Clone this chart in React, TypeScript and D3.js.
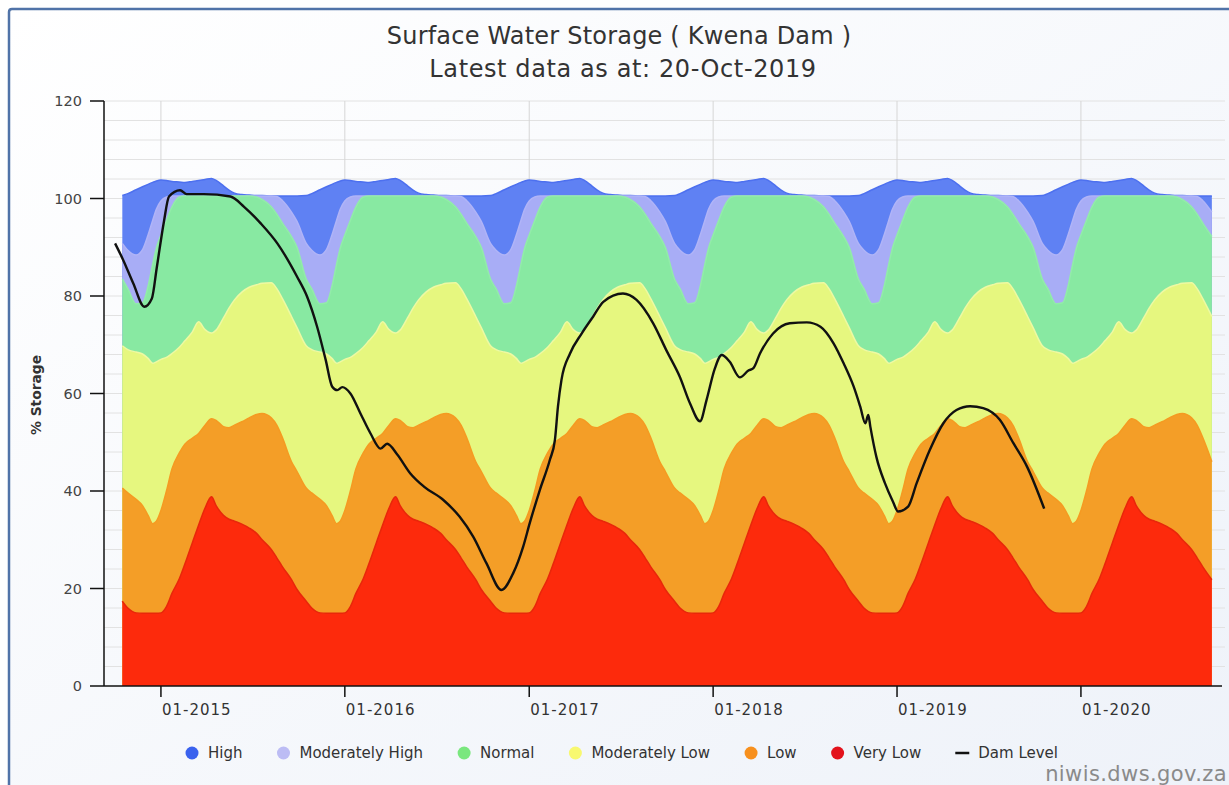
import React, { useMemo } from "react";
import * as d3 from "d3";

const W = 1229;
const H = 785;

// ---- Band climatology (one-year profile, fraction of year -> % storage at each band's upper edge)
const profileFractions = [0, 0.03, 0.06, 0.1, 0.13, 0.17, 0.205, 0.24, 0.275, 0.3, 0.34, 0.37, 0.4, 0.44, 0.48, 0.52, 0.55, 0.6, 0.63, 0.66, 0.71, 0.74, 0.79, 0.82, 0.865, 0.9, 0.93, 0.955, 0.975];
const veryLowTop = [15.0, 16.3, 19.0, 22.0, 25.0, 29.3, 33.0, 36.5, 38.8, 37.0, 35.0, 34.2, 33.8, 33.2, 32.4, 31.3, 30.0, 28.0, 26.3, 24.5, 21.8, 19.8, 17.4, 16.0, 15.0, 14.9, 14.9, 14.9, 14.9];
const lowTop = [36.0, 40.0, 44.5, 47.8, 49.6, 50.8, 51.8, 53.5, 54.8, 54.5, 53.2, 53.0, 53.5, 54.2, 55.0, 55.7, 55.9, 55.0, 53.5, 51.0, 46.0, 44.0, 40.6, 39.6, 38.3, 37.0, 35.0, 33.3, 33.8];
const modLowTop = [67.0, 67.4, 68.2, 69.5, 70.8, 72.6, 74.7, 73.1, 72.4, 73.0, 75.5, 77.5, 79.2, 80.8, 81.8, 82.3, 82.6, 82.7, 81.5, 79.5, 75.8, 73.5, 69.8, 69.0, 68.5, 68.1, 67.2, 66.2, 66.5];
const normalTop = [92.5, 95.5, 98.3, 100.3, 100.5, 100.5, 100.5, 100.5, 100.5, 100.5, 100.5, 100.5, 100.5, 100.5, 100.5, 100.3, 99.8, 98.3, 96.8, 95.0, 92.2, 90.0, 83.5, 81.5, 78.4, 78.6, 82.0, 86.5, 89.8];
const modHighTop = [99.5, 100.3, 100.5, 100.5, 100.5, 100.5, 100.5, 100.5, 100.5, 100.5, 100.5, 100.5, 100.5, 100.5, 100.5, 100.5, 100.5, 100.5, 100.4, 99.6, 97.2, 95.3, 90.8, 89.4, 88.4, 89.5, 92.5, 95.5, 97.8];
const highTop = [103.8, 103.7, 103.5, 103.4, 103.3, 103.5, 103.7, 103.9, 104.1, 103.7, 102.6, 101.7, 101.1, 100.8, 100.7, 100.6, 100.6, 100.5, 100.5, 100.5, 100.5, 100.5, 100.6, 101.0, 101.8, 102.4, 102.9, 103.3, 103.6];

const bandYears = [2014, 2015, 2016, 2017, 2018, 2019, 2020];
const bandStart = "2014-10-14";
const bandEnd = "2020-09-18";

// ---- Dam level
const damDates = [
  "2014-10-02", "2014-10-18", "2014-11-07", "2014-11-29", "2014-12-14", "2014-12-24", "2015-01-07", "2015-01-17",
  "2015-02-08", "2015-02-21", "2015-03-27", "2015-05-19", "2015-06-15", "2015-07-18", "2015-08-20", "2015-09-28",
  "2015-10-18", "2015-11-07", "2015-11-24", "2015-12-07", "2015-12-17", "2015-12-27", "2016-01-12", "2016-02-01",
  "2016-02-21", "2016-03-12", "2016-03-25", "2016-04-14", "2016-05-10", "2016-06-06", "2016-07-14", "2016-08-16",
  "2016-09-12", "2016-10-08", "2016-11-07", "2016-11-30", "2016-12-20", "2017-01-02", "2017-01-22", "2017-02-11",
  "2017-02-21", "2017-02-27", "2017-03-06", "2017-03-23", "2017-04-15", "2017-05-08", "2017-05-28", "2017-07-06",
  "2017-08-02", "2017-09-04", "2017-09-30", "2017-10-27", "2017-11-16", "2017-12-06", "2017-12-19", "2018-01-04",
  "2018-01-18", "2018-02-03", "2018-02-23", "2018-03-12", "2018-03-22", "2018-04-04", "2018-04-30", "2018-06-02",
  "2018-07-06", "2018-08-02", "2018-08-28", "2018-09-17", "2018-10-07", "2018-10-20", "2018-10-30", "2018-11-05",
  "2018-11-09", "2018-11-21", "2018-12-08", "2018-12-24", "2019-01-03", "2019-01-23", "2019-02-09", "2019-03-07",
  "2019-04-03", "2019-04-29", "2019-05-26", "2019-06-21", "2019-07-24", "2019-08-20", "2019-09-16", "2019-10-20",
];
const damLevels = [
  90.8, 87.4, 82.6, 77.8, 79.5, 86.0, 95.3, 100.4,
  101.7, 100.9, 100.9, 100.4, 98.3, 94.9, 90.8, 84.0,
  79.9, 73.7, 66.9, 61.4, 60.7, 61.3, 60.0, 55.9,
  51.8, 48.7, 49.7, 47.5, 43.6, 40.9, 38.2, 34.7,
  30.6, 25.2, 19.7, 23.1, 28.6, 33.4, 40.2, 46.4,
  50.5, 57.3, 62.8, 68.2, 72.3, 75.8, 78.8, 80.5,
  79.2, 74.4, 68.9, 63.4, 58.0, 54.3, 58.7, 65.0,
  67.9, 66.5, 63.3, 64.7, 65.2, 68.2, 72.3, 74.4,
  74.6, 73.7, 70.3, 66.2, 61.4, 57.3, 53.9, 55.6,
  53.2, 47.0, 41.6, 37.8, 35.8, 36.8, 41.6, 48.4,
  53.9, 56.6, 57.4, 57.0, 54.6, 49.8, 45.0, 36.4,
];

// ---- Axes
const yTicks = [0, 20, 40, 60, 80, 100, 120];
const yGridStep = 4;
const xTickDates = ["2015-01-01", "2016-01-01", "2017-01-01", "2018-01-01", "2019-01-01", "2020-01-01"];
const xTickLabels = ["01-2015", "01-2016", "01-2017", "01-2018", "01-2019", "01-2020"];
const xDomain = ["2014-09-10", "2020-10-07"];

// ---- Legend / series
const seriesNames = ["High", "Moderately High", "Normal", "Moderately Low", "Low", "Very Low"];
const seriesFill = ["#5f81f3", "#a8adf6", "#88e9a2", "#e6f77f", "#f49e27", "#fd2a0c"];
const seriesStroke = ["#4d70ef", "#b0b4f7", "#92eca9", "#eef9a3", "#f59a22", "#e8270a"];
const legendColors = ["#3a62ee", "#bcbcf4", "#7ae77e", "#f8f870", "#f7901e", "#e3121c"];
const damName = "Dam Level";

const titleText = "Surface Water Storage ( Kwena Dam )";
const subtitleText = "Latest data as at: 20-Oct-2019";
const yTitle = "% Storage";
const credit = "niwis.dws.gov.za";

const FONT = "'DejaVu Sans', sans-serif";
const parse = (s: string) => new Date(s + "T00:00:00Z");

function measure(text: string, font: string): number {
  try {
    const c = document.createElement("canvas").getContext("2d");
    if (c) {
      c.font = font;
      return c.measureText(text).width;
    }
  } catch (e) {}
  return text.length * 8;
}

export default function App() {
  const left = 104, right = 1222, top = 101, bottom = 686;

  const x = useMemo(() => d3.scaleUtc().domain(xDomain.map(parse)).range([left, right]), []);
  const y = useMemo(() => d3.scaleLinear().domain([0, 120]).range([bottom, top]), []);

  const bandPts = useMemo(() => {
    const s = parse(bandStart).getTime();
    const e = parse(bandEnd).getTime();
    const pts: { t: Date; i: number }[] = [];
    bandYears.forEach((yr) => {
      const a = Date.UTC(yr, 0, 1);
      const b = Date.UTC(yr + 1, 0, 1);
      profileFractions.forEach((f, i) => {
        const t = a + f * (b - a);
        if (t >= s && t <= e) pts.push({ t: new Date(t), i });
      });
    });
    return pts;
  }, []);

  const boundaries = [highTop, modHighTop, normalTop, modLowTop, lowTop, veryLowTop];

  const areaGen = d3
    .area<{ t: Date; v: number }>()
    .x((d) => x(d.t))
    .y0(y(0))
    .y1((d) => y(d.v))
    .curve(d3.curveMonotoneX);
  const lineGen = d3
    .line<{ t: Date; v: number }>()
    .x((d) => x(d.t))
    .y((d) => y(d.v))
    .curve(d3.curveMonotoneX);

  const bands = boundaries.map((arr) => bandPts.map((p) => ({ t: p.t, v: arr[p.i] })));
  const dam = damDates.map((d, i) => ({ t: parse(d), v: damLevels[i] }));

  const gridVals = d3.range(yGridStep, 120 + 0.001, yGridStep);

  // legend layout
  const legendLabels = [...seriesNames, damName];
  const widths = legendLabels.map((l) => measure(l, "15px DejaVu Sans"));
  const symW = 17, gap = 33;
  const itemW = widths.map((w) => symW + 7 + w);
  const total = d3.sum(itemW) + gap * (itemW.length - 1);
  let cx = 621 - total / 2;
  const legendPos = itemW.map((w) => {
    const p = cx;
    cx += w + gap;
    return p;
  });
  const legendY = 753;

  return (
    <svg width={W} height={H} style={{ position: "absolute", left: 0, top: 0 }} fontFamily={FONT}>
      <defs>
        <linearGradient id="bg" x1="0" y1="0" x2="1" y2="1">
          <stop offset="0%" stopColor="#ffffff" />
          <stop offset="100%" stopColor="#eef2f9" />
        </linearGradient>
        <clipPath id="plot">
          <rect x={left} y={top} width={right - left} height={bottom - top} />
        </clipPath>
      </defs>
      <rect x={0} y={0} width={W} height={H} fill="#ffffff" />
      <rect x={8} y={8} width={W} height={H} fill="url(#bg)" />
      <path d={`M9,${H} L9,12 Q9,9 12,9 L${W},9`} fill="none" stroke="#5073a8" strokeWidth={2.5} />

      {/* grid */}
      {gridVals.map((v) => (
        <line key={"g" + v} x1={left} x2={right + 3} y1={y(v)} y2={y(v)} stroke="#e2e2e2" strokeWidth={1} />
      ))}
      {xTickDates.map((d) => (
        <line key={"vg" + d} x1={x(parse(d))} x2={x(parse(d))} y1={top} y2={bottom} stroke="#d6d6d6" strokeWidth={1} />
      ))}

      {/* bands */}
      <g clipPath="url(#plot)">
        {bands.map((pts, k) => (
          <g key={"b" + k}>
            <path d={areaGen(pts) || ""} fill={seriesFill[k]} />
            <path d={lineGen(pts) || ""} fill="none" stroke={seriesStroke[k]} strokeWidth={1.5} />
          </g>
        ))}
        <path d={lineGen(dam) || ""} fill="none" stroke="#111111" strokeWidth={2.4} strokeLinejoin="round" />
      </g>

      {/* axes */}
      <line x1={left} x2={left} y1={top} y2={bottom} stroke="#111" strokeWidth={1.5} />
      <line x1={left} x2={right} y1={bottom} y2={bottom} stroke="#111" strokeWidth={1.5} />
      {yTicks.map((v) => (
        <g key={"yt" + v}>
          <line x1={left - 14} x2={left} y1={y(v)} y2={y(v)} stroke="#111" strokeWidth={1.5} />
          <text x={82} y={y(v)} dy="0.36em" textAnchor="end" fontSize={14.5} fill="#444">
            {v}
          </text>
        </g>
      ))}
      {xTickDates.map((d, i) => (
        <g key={"xt" + d}>
          <line x1={x(parse(d))} x2={x(parse(d))} y1={bottom} y2={bottom + 11} stroke="#111" strokeWidth={1.5} />
          <text x={x(parse(d)) + 1} y={bottom + 29} fontSize={15} letterSpacing={1} fill="#333">
            {xTickLabels[i]}
          </text>
        </g>
      ))}
      <text
        transform={`translate(41, 395) rotate(-90)`}
        textAnchor="middle"
        fontSize={13.8}
        fontWeight="bold"
        fill="#333"
      >
        {yTitle}
      </text>

      {/* titles */}
      <text x={619} y={44} textAnchor="middle" fontSize={24} letterSpacing={0.2} fill="#333">
        {titleText}
      </text>
      <text x={623} y={77} textAnchor="middle" fontSize={24} letterSpacing={0.6} fill="#333">
        {subtitleText}
      </text>

      {/* legend */}
      {legendLabels.map((l, i) => {
        const px = legendPos[i];
        return (
          <g key={"lg" + l}>
            {i < seriesNames.length ? (
              <circle cx={px + 8} cy={legendY} r={6.5} fill={legendColors[i]} />
            ) : (
              <line x1={px + 1} x2={px + 15} y1={legendY} y2={legendY} stroke="#111" strokeWidth={2.5} />
            )}
            <text x={px + symW + 7} y={legendY} dy="0.36em" fontSize={15} fill="#333">
              {l}
            </text>
          </g>
        );
      })}

      <text x={1227} y={781} textAnchor="end" fontSize={21} letterSpacing={0.4} fill="#8a8a8a">
        {credit}
      </text>
    </svg>
  );
}
